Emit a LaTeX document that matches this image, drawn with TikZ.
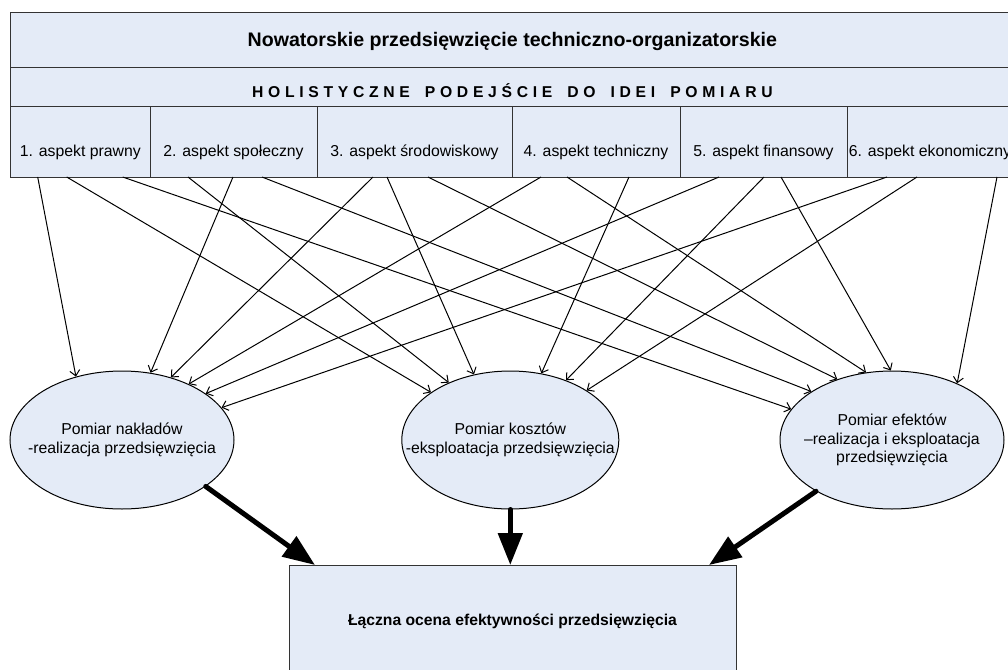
\documentclass[tikz,border=0pt]{standalone}
\usepackage{fontspec}
\setmainfont{Liberation Sans}
\newfontfamily\spacedfont[LetterSpace=30,WordSpace=1.65]{Liberation Sans}
\usetikzlibrary{positioning,calc,arrows.meta,shapes.geometric}
\definecolor{panefill}{RGB}{228,235,247}
\tikzset{
  pane/.style={draw=black!80,fill=panefill,line width=0.5pt,inner sep=0pt,outer sep=0pt},
  aspect/.style={pane,minimum height=35.5pt,text height=25pt,text depth=10.5pt,font=\fontsize{7.9}{9.5}\selectfont},
  measure/.style={ellipse,draw=black,fill=panefill,line width=0.5pt,inner sep=0pt,minimum height=69pt},
  caption/.style={align=center,font=\fontsize{7.9}{9.5}\selectfont},
  link/.style={line width=0.5pt,-{Straight Barb[length=2.75pt,width=5pt]}},
  bigarrow/.style={line width=2.5pt,line cap=round,-{Triangle[length=16pt,width=12pt]}}
}
\begin{document}
\begin{tikzpicture}[x=0.5pt,y=-0.5pt]
\useasboundingbox (0,0) rectangle (1008,670);
\clip (0,0) rectangle (1008,670);
\node[pane,anchor=north west,minimum width=501.65pt,text height=17.35pt,text depth=10.15pt,font=\bfseries\fontsize{9.8}{12}\selectfont] (title) at (10.7,12) {Nowatorskie przedsięwzięcie techniczno-organizatorskie};
\node[pane,below=0pt of title,minimum width=501.65pt,text height=15.15pt,text depth=4.35pt,font=\spacedfont\bfseries\fontsize{7.85}{9.5}\selectfont] (holistic) {HOLISTYCZNE PODEJŚCIE DO IDEI POMIARU};
\node[aspect,anchor=north west,minimum width=69.65pt] (a1) at (holistic.south west) {1. aspekt prawny};
\node[aspect,right=0pt of a1,minimum width=83.5pt] (a2) {2. aspekt społeczny};
\node[aspect,right=0pt of a2,minimum width=97.5pt] (a3) {3. aspekt środowiskowy};
\node[aspect,right=0pt of a3,minimum width=84pt] (a4) {4. aspekt techniczny};
\node[aspect,right=0pt of a4,minimum width=83.5pt] (a5) {5. aspekt finansowy};
\node[aspect,right=0pt of a5,minimum width=83pt] (a6) {6. aspekt ekonomiczny};

\node[measure,minimum width=112pt] (e1) at (122,440) {};
\node[measure,minimum width=108.5pt] (e2) at (510.3,440) {};
\node[measure,minimum width=112pt] (e3) at (892,440) {};
\node[caption] (t1) at (e1) {Pomiar nakładów\\-realizacja przedsięwzięcia};
\node[caption] (t2) at (e2) {Pomiar kosztów\\-eksploatacja przedsięwzięcia};
\node[caption,font=\fontsize{7.9}{9.25}\selectfont] (t3) at (e3) {Pomiar efektów\\–realizacja i eksploatacja\\przedsięwzięcia};

\node[pane,anchor=north,minimum width=223.5pt,text height=30pt,text depth=25.5pt,font=\bfseries\fontsize{7.85}{9.5}\selectfont] (total) at (512.5,565) {Łączna ocena efektywności przedsięwzięcia};

\foreach \src/\dx/\dst/\ang in {a1/27/e1/126,a1/56/e2/149.5,a1/112/e3/163,
  a2/38/e2/137,a2/83/e1/67,a2/112/e3/149,
  a3/56/e1/52,a3/70/e2/119,a3/111/e3/132.5,
  a4/29/e1/40,a4/55/e3/111,a4/117/e2/65,
  a5/39/e1/29,a5/84/e2/47,a5/101/e3/91,
  a6/40/e1/18,a6/70/e2/33,a6/150/e3/41}
  \draw[link] ($(\src.south west)+(\dx,0)$) -- (\dst.\ang);

\draw[bigarrow] (e1.-29.5) -- ($(total.north west)+(26,0)$);
\draw[bigarrow] (e2.south) -- (e2.south |- total.north);
\draw[bigarrow] (e3.-146.8) -- ($(total.north east)+(-27,0)$);
\end{tikzpicture}
\end{document}
